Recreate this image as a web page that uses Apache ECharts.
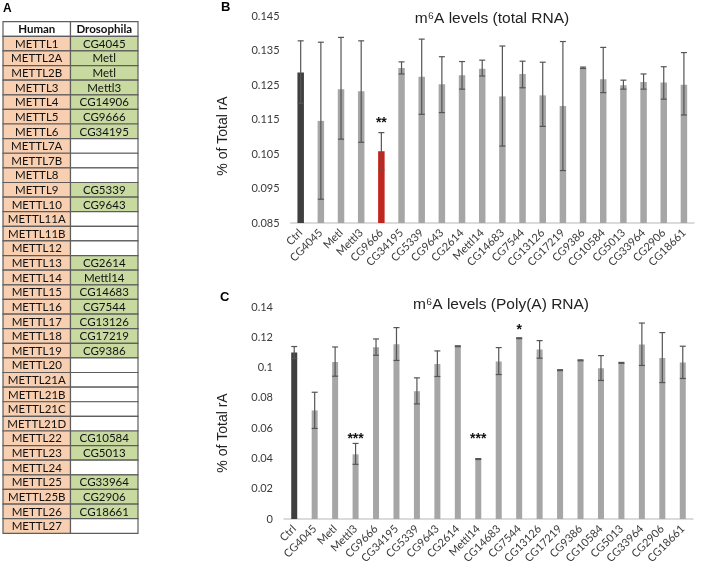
<!DOCTYPE html>
<html>
<head>
<meta charset="utf-8">
<script src="https://cdn.jsdelivr.net/npm/echarts@6/dist/echarts.min.js"></script>
<style>html,body{margin:0;padding:0;background:#fff}#c{width:709px;height:575px}</style>
</head>
<body>
<div id="c"></div>
<script>
// ---------- Panel A: table ----------
const tableHeader = ['Human', 'Drosophila'];
const humanGenes = ['METTL1','METTL2A','METTL2B','METTL3','METTL4','METTL5','METTL6','METTL7A','METTL7B','METTL8','METTL9','METTL10','METTL11A','METTL11B','METTL12','METTL13','METTL14','METTL15','METTL16','METTL17','METTL18','METTL19','METTL20','METTL21A','METTL21B','METTL21C','METTL21D','METTL22','METTL23','METTL24','METTL25','METTL25B','METTL26','METTL27'];
const flyGenes = ['CG4045','Metl','Metl','Mettl3','CG14906','CG9666','CG34195','','','','CG5339','CG9643','','','','CG2614','Mettl14','CG14683','CG7544','CG13126','CG17219','CG9386','','','','','','CG10584','CG5013','','CG33964','CG2906','CG18661',''];

// ---------- Panels B & C ----------
const categories = ['Ctrl','CG4045','Metl','Mettl3','CG9666','CG34195','CG5339','CG9643','CG2614','Mettl14','CG14683','CG7544','CG13126','CG17219','CG9386','CG10584','CG5013','CG33964','CG2906','CG18661'];

const totalRNA   = [0.1286,0.1146,0.1238,0.1232,0.1058,0.1299,0.1274,0.1252,0.1278,0.1297,0.1217,0.1282,0.1220,0.1189,0.1300,0.1267,0.1249,0.1259,0.1257,0.1251];
const totalRNAHi = [0.1378,0.1374,0.1388,0.1378,0.1112,0.1317,0.1383,0.1332,0.1318,0.1322,0.1363,0.1319,0.1316,0.1376,0.1302,0.1359,0.1264,0.1282,0.1303,0.1344];
const totalRNALo = [0.1197,0.0919,0.1093,0.1084,0.1004,0.1282,0.1165,0.1170,0.1238,0.1276,0.1073,0.1242,0.1130,0.1002,0.1298,0.1228,0.1238,0.1238,0.1209,0.1163];
const totalSigText = ['**'];
const totalSigIdx  = [4];
const totalSigY    = [0.1151];

const polyA   = [0.1099,0.0717,0.1037,0.0427,0.1134,0.1154,0.0844,0.1024,0.1141,0.0396,0.1040,0.1194,0.1119,0.0983,0.1048,0.0996,0.1031,0.1152,0.1064,0.1033];
const polyAHi = [0.1139,0.0837,0.1136,0.0499,0.1189,0.1264,0.0932,0.1110,0.1144,0.0399,0.1132,0.1197,0.1178,0.0986,0.1051,0.1079,0.1034,0.1294,0.1231,0.1141];
const polyALo = [0.1060,0.0598,0.0943,0.0361,0.1081,0.1047,0.0760,0.0941,0.1138,0.0393,0.0954,0.1191,0.1062,0.0980,0.1045,0.0915,0.1028,0.1014,0.0901,0.0928];
const polySigText = ['***','***','*'];
const polySigIdx  = [3, 9, 11];
const polySigY    = [0.0554, 0.0554, 0.1273];

const yTicksB = { min: 0.085, max: 0.145, step: 0.01 };
const yTicksC = { min: 0, max: 0.14, step: 0.02 };

// ---------- styling ----------
const COL_CTRL = '#3f3f3f', COL_BAR = '#a6a6a6', COL_RED = '#c0261d', COL_ERR = '#555555';
const COL_HUMAN = '#f8cfb0', COL_FLY = '#c8daa0';
const FONT = 'Lato';

function barColors(vals, redIdx) {
  return vals.map((v, i) => ({ value: v, itemStyle: { color: i === 0 ? COL_CTRL : (i === redIdx ? COL_RED : COL_BAR) } }));
}

// table data
const tableData = [];
tableData.push({ value: [0, 0], txt: tableHeader[0], fill: '#ffffff', bold: true });
tableData.push({ value: [1, 0], txt: tableHeader[1], fill: '#ffffff', bold: true });
humanGenes.forEach((h, i) => {
  tableData.push({ value: [0, i + 1], txt: h, fill: COL_HUMAN, bold: false });
  tableData.push({ value: [1, i + 1], txt: flyGenes[i], fill: flyGenes[i] ? COL_FLY : '#ffffff', bold: false });
});
const nRows = humanGenes.length + 1;

function errData(hi, lo) { return hi.map((h, i) => [i, lo[i], h]); }
function errRender(capHalf) {
  return function (params, api) {
    const x = api.value(0);
    const top = api.coord([x, api.value(2)]);
    const bot = api.coord([x, api.value(1)]);
    const st = { stroke: COL_ERR, lineWidth: 1.2 };
    return { type: 'group', children: [
      { type: 'line', shape: { x1: top[0], y1: top[1], x2: bot[0], y2: bot[1] }, style: st },
      { type: 'line', shape: { x1: top[0] - capHalf, y1: top[1], x2: top[0] + capHalf, y2: top[1] }, style: st },
      { type: 'line', shape: { x1: bot[0] - capHalf, y1: bot[1], x2: bot[0] + capHalf, y2: bot[1] }, style: st }
    ]};
  };
}
function sigData(idx, ys, txt) { return idx.map((x, k) => ({ value: [x, ys[k]], txt: txt[k] })); }
function sigRender(data) {
  return function (params, api) {
    const p = api.coord([api.value(0), api.value(1)]);
    return { type: 'text', x: p[0], y: p[1] + 4, style: { text: data[params.dataIndex].txt, fill: '#111', font: 'bold 14px "Liberation Sans"', align: 'center', verticalAlign: 'middle' } };
  };
}

const sigB = sigData(totalSigIdx, totalSigY, totalSigText);
const sigC = sigData(polySigIdx, polySigY, polySigText);

function catAxis(gridIndex) {
  return {
    type: 'category', gridIndex, data: categories,
    axisLine: { lineStyle: { color: '#cfcfcf', width: 1.5 } },
    axisTick: { show: false },
    axisLabel: { rotate: 45, margin: 8, fontSize: 11, color: '#3a3a3a', fontFamily: FONT, interval: 0 }
  };
}

const option = {
  backgroundColor: '#fff',
  animation: false,
  title: [
    { text: 'm⁶A levels (total RNA)', left: 487, top: 6, textAlign: 'center', textStyle: { fontFamily: 'Liberation Sans', fontSize: 15.5, fontWeight: 'normal', color: '#222' } },
    { text: 'm⁶A levels (Poly(A) RNA)', left: 496, top: 292, textAlign: 'center', textStyle: { fontFamily: 'Liberation Sans', fontSize: 15.5, fontWeight: 'normal', color: '#222' } }
  ],
  graphic: [
    { type: 'text', left: 3, top: 3, style: { text: 'A', font: 'bold 12px "Liberation Sans"', fill: '#000' } },
    { type: 'text', left: 221, top: 1, style: { text: 'B', font: 'bold 13px "Liberation Sans"', fill: '#000' } },
    { type: 'text', left: 220, top: 291, style: { text: 'C', font: 'bold 13px "Liberation Sans"', fill: '#000' } },
    { type: 'text', x: 223, y: 136, rotation: Math.PI / 2, style: { text: '% of Total rA', font: '14px "Liberation Sans"', fill: '#222', align: 'center', verticalAlign: 'middle' } },
    { type: 'text', x: 223, y: 433, rotation: Math.PI / 2, style: { text: '% of Total rA', font: '14px "Liberation Sans"', fill: '#222', align: 'center', verticalAlign: 'middle' } }
  ],
  grid: [
    { left: 3, top: 21.7, width: 135, height: 511.6 },
    { left: 290.6, right: 15, top: 16, bottom: 352 },
    { left: 284, right: 16, top: 307, bottom: 56 }
  ],
  xAxis: [
    { type: 'value', gridIndex: 0, min: 0, max: 2, show: false },
    catAxis(1),
    catAxis(2)
  ],
  yAxis: [
    { type: 'value', gridIndex: 0, min: 0, max: nRows, inverse: true, show: false },
    { type: 'value', gridIndex: 1, min: yTicksB.min, max: yTicksB.max, interval: yTicksB.step / 2,
      axisLine: { show: false }, axisTick: { show: false }, splitLine: { show: false },
      axisLabel: { margin: 11, fontSize: 11, color: '#3a3a3a', fontFamily: FONT,
        formatter: v => { const k = Math.round((v - yTicksB.min) / (yTicksB.step / 2)); return k % 2 === 0 ? v.toFixed(3) : ''; } } },
    { type: 'value', gridIndex: 2, min: yTicksC.min, max: yTicksC.max, interval: yTicksC.step,
      axisLine: { show: false }, axisTick: { show: false }, splitLine: { show: false },
      axisLabel: { margin: 11, fontSize: 11, color: '#3a3a3a', fontFamily: FONT } }
  ],
  series: [
    {
      type: 'custom', xAxisIndex: 0, yAxisIndex: 0, data: tableData,
      renderItem: function (params, api) {
        const c = api.value(0), r = api.value(1);
        const p0 = api.coord([c, r]), p1 = api.coord([c + 1, r + 1]);
        const d = tableData[params.dataIndex];
        return { type: 'group', children: [
          { type: 'rect', shape: { x: p0[0], y: p0[1], width: p1[0] - p0[0], height: p1[1] - p0[1] },
            style: { fill: d.fill, stroke: '#5e5e5e', lineWidth: 1.2 } },
          { type: 'text', x: (p0[0] + p1[0]) / 2, y: (p0[1] + p1[1]) / 2 + 0.5,
            style: { text: d.txt, font: (d.bold ? 'bold ' : '') + '11.5px ' + FONT, fill: '#111', align: 'center', verticalAlign: 'middle' } }
        ]};
      }
    },
    { type: 'bar', xAxisIndex: 1, yAxisIndex: 1, data: barColors(totalRNA, 4), barWidth: 6.5 },
    { type: 'custom', xAxisIndex: 1, yAxisIndex: 1, data: errData(totalRNAHi, totalRNALo), renderItem: errRender(3), encode: { x: 0, y: [1, 2] }, z: 5 },
    { type: 'custom', xAxisIndex: 1, yAxisIndex: 1, data: sigB, renderItem: sigRender(sigB), encode: { x: 0, y: 1 }, z: 6 },
    { type: 'bar', xAxisIndex: 2, yAxisIndex: 2, data: barColors(polyA, -1), barWidth: 6 },
    { type: 'custom', xAxisIndex: 2, yAxisIndex: 2, data: errData(polyAHi, polyALo), renderItem: errRender(3), encode: { x: 0, y: [1, 2] }, z: 5 },
    { type: 'custom', xAxisIndex: 2, yAxisIndex: 2, data: sigC, renderItem: sigRender(sigC), encode: { x: 0, y: 1 }, z: 6 }
  ]
};

const chart = echarts.init(document.getElementById('c'), null, { renderer: 'canvas' });
chart.setOption(option);
</script>
</body>
</html>
